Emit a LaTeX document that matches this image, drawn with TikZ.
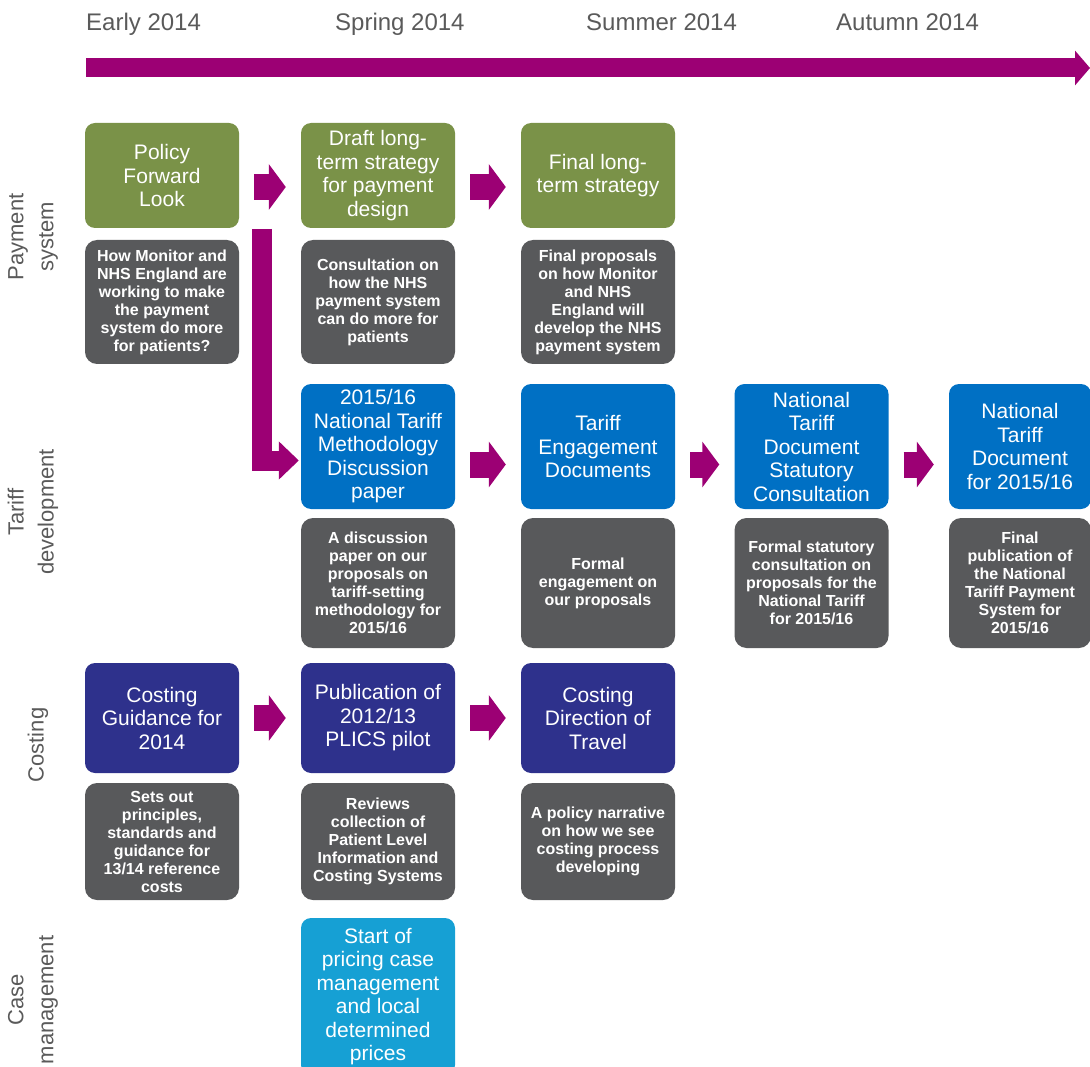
\documentclass[tikz,border=0pt]{standalone}
\usepackage{fontspec}
\setmainfont{Liberation Sans}
\usepackage{xcolor}
\usetikzlibrary{calc, arrows.meta}

\definecolor{psgreen}{RGB}{122,146,72}
\definecolor{tdblue}{RGB}{0,112,196}
\definecolor{conavy}{RGB}{46,49,140}
\definecolor{cmcyan}{RGB}{22,160,212}
\definecolor{descgrey}{RGB}{88,89,91}
\definecolor{plum}{RGB}{156,0,116}
\definecolor{labelgrey}{RGB}{90,90,90}

\tikzset{
	stage/.style = {rounded corners = 10pt, text = white, align = center, inner sep = 0pt,
		minimum width = 154pt, font = \fontsize{21}{23.5}\selectfont},
	info/.style = {stage, fill = descgrey, rounded corners = 12pt,
		font = \bfseries\fontsize{16}{18}\selectfont},
	season/.style = {text = labelgrey, anchor = base west, inner sep = 0pt,
		font = \fontsize{24}{28}\selectfont},
	strand/.style = {text = labelgrey, rotate = 90, align = center, inner sep = 0pt,
		font = \fontsize{22}{30}\selectfont},
	flow/.style = {plum, line width = 26pt, shorten < = 15pt, shorten > = 15pt,
		-{Triangle[length = 17pt, width = 45pt]}},
}

\begin{document}
\begin{tikzpicture}[x = 1pt, y = -1pt]
		\useasboundingbox (0,0) rectangle (1090,1067);
		
		% timeline
		\node[season] (early) at (86,31) {Early 2014};
		\node[season] (spring) at (335,31) {Spring 2014};
		\node[season] (summer) at (586,31) {Summer 2014};
		\node[season] (autumn) at (836,31) {Autumn 2014};
		\coordinate (tl start) at (86,68);
		\coordinate (tl end) at (1090,68);
		\draw[plum, line width = 19pt, -{Triangle[length = 15pt, width = 34pt]}] (tl start) -- (tl end);
		
		% strands
		\node[strand] (lbl ps) at (33,237) {Payment\\system};
		\node[strand] (lbl td) at (33,512) {Tariff\\development};
		\node[strand] (lbl co) at (38,745) {Costing};
		\node[strand] (lbl cm) at (33,1000) {Case\\management};
		
		% payment system
		\node[stage, fill = psgreen, minimum height = 105pt] (ps1) at (162,175.5) {Policy\\Forward\\Look};
		\node[stage, fill = psgreen, minimum height = 105pt] (ps2) at (378,175.5) {Draft long-\\term strategy\\for payment\\design};
		\node[stage, fill = psgreen, minimum height = 105pt] (ps3) at (598,175.5) {Final long-\\term strategy};
		\node[info, minimum height = 124pt] (psd1) at (162,302) {How Monitor and\\NHS England are\\working to make\\the payment\\system do more\\for patients?};
		\node[info, minimum height = 124pt] (psd2) at (378,302) {Consultation on\\how the NHS\\payment system\\can do more for\\patients};
		\node[info, minimum height = 124pt] (psd3) at (598,302) {Final proposals\\on how Monitor\\and NHS\\England will\\develop the NHS\\payment system};
		
		% tariff development
		\node[stage, fill = tdblue, minimum height = 125pt] (td2) at (378,446.5) {2015/16\\National Tariff\\Methodology\\Discussion\\paper};
		\node[stage, fill = tdblue, minimum height = 125pt] (td3) at (598,446.5) {Tariff\\Engagement\\Documents};
		\node[stage, fill = tdblue, minimum height = 125pt] (td4) at (811.5,446.5) {National\\Tariff\\Document\\Statutory\\Consultation};
		\node[stage, fill = tdblue, minimum height = 125pt, minimum width = 142pt] (td5) at (1020,446.5) {National\\Tariff\\Document\\for 2015/16};
		\node[info, minimum height = 130pt] (tdd2) at (378,583) {A discussion\\paper on our\\proposals on\\tariff-setting\\methodology for\\2015/16};
		\node[info, minimum height = 130pt] (tdd3) at (598,583) {Formal\\engagement on\\our proposals};
		\node[info, minimum height = 130pt] (tdd4) at (811.5,583) {Formal statutory\\consultation on\\proposals for the\\National Tariff\\for 2015/16};
		\node[info, minimum height = 130pt, minimum width = 142pt] (tdd5) at (1020,583) {Final\\publication of\\the National\\Tariff Payment\\System for\\2015/16};
		
		% costing
		\node[stage, fill = conavy, minimum height = 110pt] (co1) at (162,718) {Costing\\Guidance for\\2014};
		\node[stage, fill = conavy, minimum height = 110pt] (co2) at (378,718) {Publication of\\2012/13\\PLICS pilot};
		\node[stage, fill = conavy, minimum height = 110pt] (co3) at (598,718) {Costing\\Direction of\\Travel};
		\node[info, minimum height = 117pt] (cod1) at (162,841.5) {Sets out\\principles,\\standards and\\guidance for\\13/14 reference\\costs};
		\node[info, minimum height = 117pt] (cod2) at (378,841.5) {Reviews\\collection of\\Patient Level\\Information and\\Costing Systems};
		\node[info, minimum height = 117pt] (cod3) at (598,841.5) {A policy narrative\\on how we see\\costing process\\developing};
		
		% case management
		\node[stage, fill = cmcyan, minimum height = 157pt] (cm2) at (378,996.5) {Start of\\pricing case\\management\\and local\\determined\\prices};
		
		% arrows
		\draw[flow] ([yshift = -11.5pt]ps1.east) -- ([yshift = -11.5pt]ps2.west);
		\draw[flow] ([yshift = -11.5pt]ps2.east) -- ([yshift = -11.5pt]ps3.west);
		\draw[flow] ([yshift = -18pt]td2.east) -- ([yshift = -18pt]td3.west);
		\draw[flow] ([yshift = -18pt]td3.east) -- ([yshift = -18pt]td4.west);
		\draw[flow] ([yshift = -18pt]td4.east) -- ([yshift = -18pt]td5.west);
		\draw[flow] (co1) -- (co2);
		\draw[flow] (co2) -- (co3);
		
		\coordinate (drop) at (262,229);
		\draw[plum, line width = 20pt, shorten > = 2pt, -{Triangle[length = 20pt, width = 37pt]}]
			(drop) |- ([yshift = -14pt]td2.west);
	\end{tikzpicture}
\end{document}
